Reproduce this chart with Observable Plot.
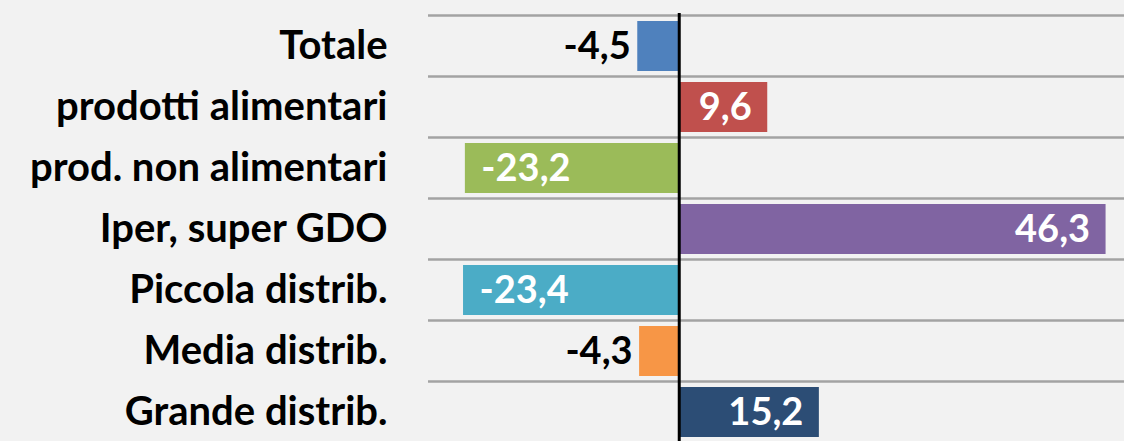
<!DOCTYPE html>
<html><head><meta charset="utf-8">
<script src="https://cdn.jsdelivr.net/npm/d3@7"></script>
<script src="https://cdn.jsdelivr.net/npm/@observablehq/plot@0.6"></script>
<style>
html,body{margin:0;padding:0;background:#f2f2f2;overflow:hidden;width:1124px;height:441px}
</style></head><body><div id="chart"></div>
<script>
const categories = ["Totale","prodotti alimentari","prod. non alimentari","Iper, super GDO","Piccola distrib.","Media distrib.","Grande distrib."];
const values = [-4.5, 9.6, -23.2, 46.3, -23.4, -4.3, 15.2];
const colors = ["#4f81bd","#c0504d","#9bbb59","#8064a2","#4bacc6","#f79646","#2c4d75"];

const data = categories.map((c, i) => ({
  cat: c,
  value: values[i],
  color: colors[i],
  label: values[i].toFixed(1).replace(".", ",")
}));

const yRange = [13, 446];
const step = (yRange[1] - yRange[0]) / categories.length;
const FS = 38;

const chart = Plot.plot({
  width: 1124,
  height: 441,
  marginLeft: 428,
  marginRight: 0,
  marginTop: 13,
  marginBottom: 0,
  style: {background: "#f2f2f2", fontFamily: "Lato, 'Open Sans', sans-serif", overflow: "hidden"},
  x: {domain: [-27.2, 48.3], axis: null},
  y: {domain: categories, range: yRange, paddingInner: 0.18, paddingOuter: 0.09},
  marks: [
    Plot.ruleY(categories, {y: d => d, dy: -step / 2, stroke: "#a3a3a3", strokeWidth: 2.5}),
    Plot.barX(data, {x1: 0, x2: "value", y: "cat", fill: "color"}),
    Plot.ruleX([0], {stroke: "black", strokeWidth: 3}),
    Plot.axisY({tickSize: 0, tickPadding: 41, fontSize: 40, fontWeight: "bold", fill: "black", label: null}),
    Plot.text(data.filter(d => d.value > 6), {x: "value", y: "cat", text: "label", textAnchor: "end", dx: -16, fill: "white", fontSize: FS, fontWeight: "bold"}),
    Plot.text(data.filter(d => d.value < -6), {x: "value", y: "cat", text: "label", textAnchor: "start", dx: 16, fill: "white", fontSize: FS, fontWeight: "bold"}),
    Plot.text(data.filter(d => d.value < 0 && d.value >= -6), {x: "value", y: "cat", text: "label", textAnchor: "end", dx: -7, fill: "black", fontSize: FS, fontWeight: "bold"})
  ]
});
document.getElementById("chart").appendChild(chart);
</script></body></html>
